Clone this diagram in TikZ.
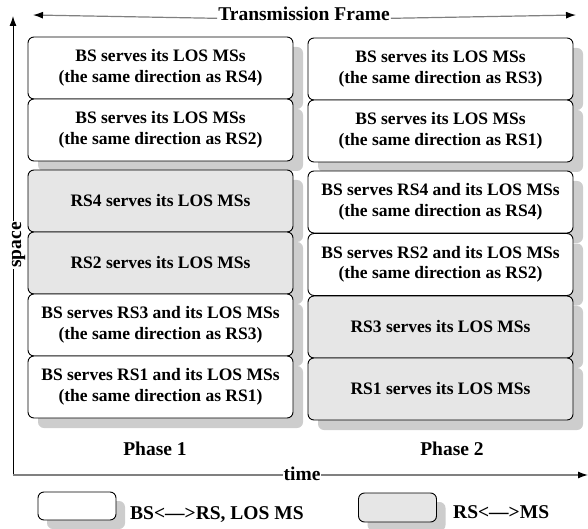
\documentclass[tikz,border=0pt]{standalone}
\usepackage{fontspec}
\setmainfont{Liberation Serif}
\usetikzlibrary{arrows.meta,shadows}
\definecolor{cellgray}{HTML}{E6E6E6}
\definecolor{shadegray}{HTML}{CDCDCD}
\definecolor{axisgray}{HTML}{808080}
\tikzset{
  slot/.style={draw=black, line width=0.9pt, rounded corners=6pt,
    minimum width=265pt, minimum height=62pt, align=center, inner sep=2pt,
    font=\fontsize{17.5}{20.5}\selectfont\bfseries,
    general shadow={fill=shadegray, shadow xshift=10pt, shadow yshift=-10pt}},
  bsslot/.style={slot, fill=white},
  rsslot/.style={slot, fill=cellgray},
  keybox/.style={draw=black, line width=0.9pt, rounded corners=6pt,
    minimum width=78pt, minimum height=28pt,
    general shadow={fill=shadegray, shadow xshift=9pt, shadow yshift=-9pt}},
  lbl/.style={font=\fontsize{19.5}{22}\selectfont\bfseries, inner sep=0pt},
  axislabel/.style={lbl, fill=white, inner sep=1pt},
  tip/.style={-{Latex[length=10pt,width=7pt,color=black]}},
}
\begin{document}
\begin{tikzpicture}[x=1pt,y=-1pt]
\useasboundingbox (0,0) rectangle (588,529);

% axes
\coordinate (origin) at (13,475);
\coordinate (spacetop) at (13,16);
\coordinate (timeend) at (588,475);
\draw[tip, line width=1pt, black] (origin) -- (spacetop);
\draw[tip, line width=1.3pt, axisgray] (origin) -- (timeend);
\node[axislabel, anchor=base] (time) at (302,480) {time};
\node[axislabel, anchor=base, rotate=90] (space) at (21,245) {space};

% frame extent
\coordinate (frameleft) at (33,15);
\coordinate (frameright) at (576,15);
\node[axislabel, anchor=base] (frame) at (304,21) {Transmission Frame};
\draw[tip, line width=1.2pt, axisgray] (frame.west) ++(0,-4pt) -- (frameleft);
\draw[tip, line width=1.2pt, axisgray] (frame.east) ++(0,-4pt) -- (frameright);

% phase 1
\node[bsslot] (a1) at (160.5,68) {BS serves its LOS MSs\\(the same direction as RS4)};
\node[bsslot] (a2) at (160.5,130) {BS serves its LOS MSs\\(the same direction as RS2)};
\node[rsslot] (a3) at (160.5,201) {RS4 serves its LOS MSs};
\node[rsslot] (a4) at (160.5,263) {RS2 serves its LOS MSs};
\node[bsslot] (a5) at (160.5,325) {BS serves RS3 and its LOS MSs\\(the same direction as RS3)};
\node[bsslot] (a6) at (160.5,387) {BS serves RS1 and its LOS MSs\\(the same direction as RS1)};

% phase 2
\node[bsslot] (b1) at (440.5,69) {BS serves its LOS MSs\\(the same direction as RS3)};
\node[bsslot] (b2) at (440.5,131) {BS serves its LOS MSs\\(the same direction as RS1)};
\node[bsslot] (b3) at (440.5,202) {BS serves RS4 and its LOS MSs\\(the same direction as RS4)};
\node[bsslot] (b4) at (440.5,264.5) {BS serves RS2 and its LOS MSs\\(the same direction as RS2)};
\node[rsslot] (b5) at (440.5,327) {RS3 serves its LOS MSs};
\node[rsslot] (b6) at (440.5,389) {RS1 serves its LOS MSs};

\node[lbl, anchor=base] (p1) at (155,455) {Phase 1};
\node[lbl, anchor=base] (p2) at (452,455) {Phase 2};

% legend
\node[keybox, fill=white] (k1) at (77,506) {};
\node[lbl, anchor=base west] (k1t) at (130,519) {BS<—>RS, LOS MS};
\node[keybox, fill=cellgray, minimum height=29pt] (k2) at (397.5,507.5) {};
\node[lbl, anchor=base west] (k2t) at (453,518) {RS<—>MS};
\end{tikzpicture}
\end{document}
